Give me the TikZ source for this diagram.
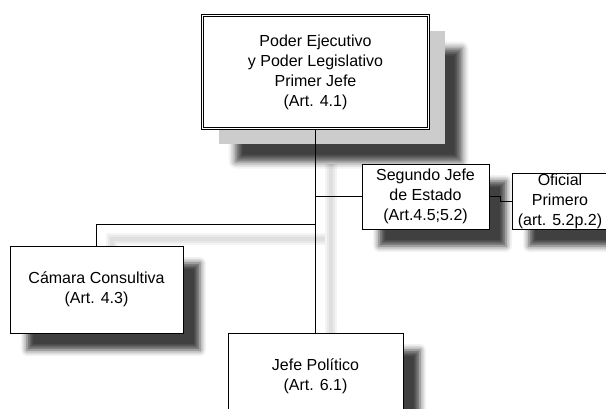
\documentclass[tikz,border=0pt]{standalone}
\usepackage{fontspec}
\setmainfont{Liberation Sans}
\usepackage{tikz}
\usetikzlibrary{positioning,shadows,shadows.blur}

\newcommand{\letra}{\fontsize{16}{20}\selectfont}
\tikzset{
  caja/.style={rectangle, draw, line width=0.8pt, fill=white, align=center, inner sep=0pt, font=\letra},
  sombra/.style={blur shadow={shadow xshift=17pt, shadow yshift=-17pt, shadow blur radius=6pt, shadow opacity=75}},
  linea/.style={line width=0.8pt},
  sombralinea/.style={draw=black, line width=#1, opacity=0.045},
}

\begin{document}
\begin{tikzpicture}[x=1pt, y=-1pt]
    \useasboundingbox (0,0) rectangle (606,408);

    \node[caja, double, double distance=1.4pt, minimum width=226pt, minimum height=113pt,
      blur shadow={shadow xshift=33pt, shadow yshift=-33pt, shadow blur radius=7pt, shadow opacity=75},
      general shadow={fill=black!20, draw=none, shadow xshift=16pt, shadow yshift=-15pt}]
      (jefe) at (315.5,72) {Poder Ejecutivo\\y Poder Legislativo\\Primer Jefe\\(Art. 4.1)};
    \node[caja, sombra, minimum width=127pt, minimum height=65pt] (seg) at (425.5,196.5) {Segundo Jefe\\de Estado\\(Art.4.5;5.2)};
    \node[caja, sombra, minimum width=96pt, minimum height=56pt] (ofi) at (560,201) {Oficial\\Primero\\(art. 5.2p.2)};
    \node[caja, sombra, minimum width=173pt, minimum height=87pt] (cam) at (96.5,289.5) {Cámara Consultiva\\(Art. 4.3)};
    \node[caja, sombra, minimum width=175pt, minimum height=87pt] (pol) at (315.5,376.5) {Jefe Político\\(Art. 6.1)};

    % sombras de las ramas
    \foreach \w in {12,8,4} {
        \path[sombralinea=\w pt] (330.5,164) -- (330.5,333);
        \path[sombralinea=\w pt] (324.5,239) -| (111.5,246);
    }

    % ramas del organigrama
    \coordinate (rama) at (315.5,224);
    \draw[linea] (jefe.south) -- (pol.north);
    \draw[linea] (jefe.south |- seg.west) -- (seg.west);
    \draw[linea] (rama) -| (cam.north);
    \draw[linea] (seg.east) -- ++(11,0) |- (ofi.west);
\end{tikzpicture}
\end{document}
